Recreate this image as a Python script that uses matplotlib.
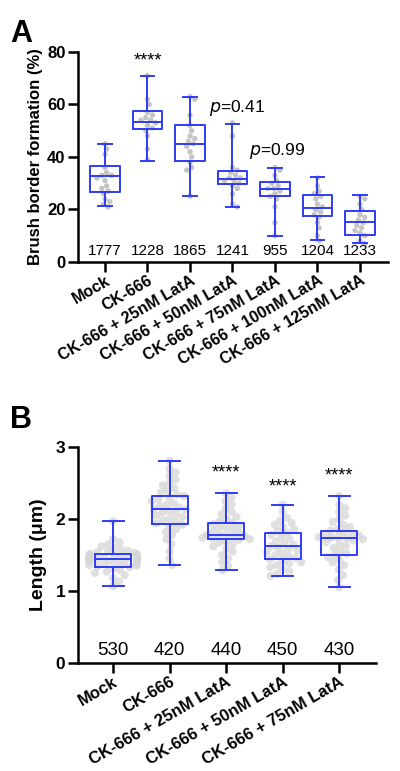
import numpy as np
import matplotlib
matplotlib.use("Agg")
import matplotlib.pyplot as plt

plt.rcParams['font.family'] = ['Liberation Sans', 'DejaVu Sans']

BLUE = "#2f3cf2"

# ---- Panel A data ----
cats_a = ["Mock", "CK-666", "CK-666 + 25nM LatA", "CK-666 + 50nM LatA",
          "CK-666 + 75nM LatA", "CK-666 + 100nM LatA", "CK-666 + 125nM LatA"]
n_a = ["1777", "1228", "1865", "1241", "955", "1204", "1233"]
whislo_a = [21.2, 38.3, 25.3, 21.1, 10.0, 8.3, 7.2]
q1_a = [26.7, 50.8, 38.3, 29.7, 25.3, 17.4, 10.4]
med_a = [32.6, 53.2, 45.1, 31.6, 27.8, 20.4, 15.2]
q3_a = [36.4, 57.7, 52.3, 34.7, 30.6, 25.4, 19.4]
whishi_a = [45.0, 71.0, 62.9, 52.7, 35.8, 32.5, 25.5]
mock_a = [45, 43, 41, 36, 34, 33, 33, 32, 31, 29, 28, 27, 26, 24, 23, 22, 21]
ck_a = [71, 62, 60, 57, 56, 55, 54, 54, 53, 52, 51, 50, 48, 43, 39]
l25_a = [63, 62, 56, 52, 50, 48, 47, 46, 45, 44, 42, 40, 38, 36, 35, 25]
l50_a = [53, 48, 36, 35, 34, 33, 32, 32, 31, 31, 30, 29, 28, 26, 22, 21]
l75_a = [36, 35, 33, 31, 30, 29, 28, 28, 27, 26, 25, 24, 21, 15, 10]
l100_a = [32, 29, 27, 26, 25, 24, 22, 21, 20, 19, 18, 17, 15, 13, 10, 8]
l125_a = [25, 24, 22, 20, 18, 17, 16, 15, 14, 13, 12, 11, 10, 8, 7]
points_a = [mock_a, ck_a, l25_a, l50_a, l75_a, l100_a, l125_a]

# ---- Panel B data ----
cats_b = ["Mock", "CK-666", "CK-666 + 25nM LatA", "CK-666 + 50nM LatA",
          "CK-666 + 75nM LatA"]
n_b = ["530", "420", "440", "450", "430"]
whislo_b = [1.065, 1.36, 1.29, 1.21, 1.05]
q1_b = [1.34, 1.93, 1.72, 1.44, 1.50]
med_b = [1.45, 2.14, 1.78, 1.62, 1.73]
q3_b = [1.51, 2.32, 1.94, 1.81, 1.83]
whishi_b = [1.97, 2.81, 2.36, 2.20, 2.32]
mock_b = [1.97, 1.72, 1.68, 1.65, 1.62, 1.6, 1.58, 1.56, 1.55, 1.54, 1.53, 1.52,
          1.51, 1.5, 1.5, 1.49, 1.48, 1.47, 1.47, 1.46, 1.46, 1.45, 1.45, 1.44,
          1.44, 1.43, 1.43, 1.42, 1.42, 1.41, 1.40, 1.39, 1.38, 1.37, 1.36, 1.35,
          1.34, 1.33, 1.31, 1.29, 1.27, 1.25, 1.22, 1.18, 1.13, 1.07]
ck_b = [2.81, 2.7, 2.65, 2.6, 2.55, 2.5, 2.47, 2.43, 2.4, 2.37, 2.34, 2.32, 2.3,
        2.28, 2.25, 2.22, 2.2, 2.18, 2.16, 2.14, 2.13, 2.11, 2.09, 2.07, 2.05,
        2.03, 2.0, 1.98, 1.96, 1.94, 1.92, 1.9, 1.86, 1.82, 1.78, 1.72, 1.65,
        1.55, 1.45, 1.36]
l25_b = [2.36, 2.3, 2.25, 2.2, 2.15, 2.1, 2.07, 2.03, 2.0, 1.97, 1.95, 1.93, 1.91,
         1.89, 1.87, 1.85, 1.83, 1.81, 1.79, 1.78, 1.77, 1.76, 1.75, 1.74, 1.73,
         1.72, 1.71, 1.69, 1.67, 1.65, 1.62, 1.58, 1.55, 1.5, 1.45, 1.4, 1.35, 1.29]
l50_b = [2.2, 2.1, 2.02, 1.98, 1.95, 1.92, 1.89, 1.86, 1.83, 1.81, 1.78, 1.75,
         1.72, 1.69, 1.66, 1.64, 1.62, 1.6, 1.58, 1.56, 1.54, 1.52, 1.5, 1.48,
         1.46, 1.44, 1.42, 1.4, 1.38, 1.36, 1.33, 1.3, 1.27, 1.24, 1.21]
l75_b = [2.32, 2.2, 2.15, 2.1, 2.05, 2.0, 1.96, 1.92, 1.89, 1.86, 1.84, 1.82, 1.8,
         1.78, 1.77, 1.76, 1.75, 1.74, 1.73, 1.72, 1.7, 1.68, 1.66, 1.63, 1.6,
         1.56, 1.52, 1.5, 1.47, 1.43, 1.4, 1.36, 1.3, 1.22, 1.15, 1.05]
points_b = [mock_b, ck_b, l25_b, l50_b, l75_b]


def swarm_offsets(ax, x0, vals, diam_px, max_off):
    # simple beeswarm: place each point at the smallest free horizontal offset
    trans = ax.transData
    px_per_unit = trans.transform((1, 0))[0] - trans.transform((0, 0))[0]
    ys = [trans.transform((x0, v))[1] for v in vals]
    placed = []
    offs = []
    for y in ys:
        cands = [0.0]
        for (px, py) in placed:
            dy = abs(y - py)
            if dy < diam_px:
                dx = np.sqrt(diam_px ** 2 - dy ** 2)
                cands += [px + dx, px - dx]
        cands.sort(key=abs)
        best = cands[-1]
        for c in cands:
            ok = all((c - px) ** 2 + (y - py) ** 2 >= diam_px ** 2 * 0.99
                     for (px, py) in placed)
            if ok:
                best = c
                break
        lim = max_off * px_per_unit
        best = max(-lim, min(lim, best))
        placed.append((best, y))
        offs.append(best / px_per_unit)
    return offs


def style_axis(ax, ysize):
    for s in ["top", "right"]:
        ax.spines[s].set_visible(False)
    for s in ["left", "bottom"]:
        ax.spines[s].set_linewidth(1.8)
    ax.tick_params(axis="both", direction="out", length=7, width=1.8)
    ax.tick_params(axis="y", labelsize=ysize, pad=2)
    ax.tick_params(axis="x", pad=1)
    for lab in ax.get_yticklabels():
        lab.set_fontweight("bold")


fig = plt.figure(figsize=(4.0, 7.71), dpi=100)

# ---------------- Panel A ----------------
axA = fig.add_axes([0.195, 0.6602, 0.775, 0.2724])
axA.set_xlim(-0.635, 6.66)
axA.set_ylim(0, 80)
xa = np.arange(len(cats_a))
for i, vals in enumerate(points_a):
    offs = swarm_offsets(axA, i, vals, 5.5, 0.33)
    axA.scatter(i + np.array(offs), vals, s=15, color="#c4c4c4", edgecolor="none", zorder=1)
stats_a = [dict(whislo=whislo_a[i], q1=q1_a[i], med=med_a[i], q3=q3_a[i],
                whishi=whishi_a[i], fliers=[]) for i in range(len(cats_a))]
axA.bxp(stats_a, positions=xa, widths=0.69, showfliers=False,
        boxprops=dict(color=BLUE, linewidth=1.4),
        medianprops=dict(color=BLUE, linewidth=1.4),
        whiskerprops=dict(color=BLUE, linewidth=1.4),
        capprops=dict(color=BLUE, linewidth=1.4), capwidths=0.32,
        manage_ticks=False, zorder=2)
for i, t in enumerate(n_a):
    axA.text(i, 1.5, t, ha="center", va="bottom", fontsize=11)
axA.text(1, 73.5, "****", ha="center", va="bottom", fontsize=13)
axA.text(3.1, 58.7, "$\\mathit{p}$=0.41", ha="center", va="center", fontsize=12.5)
axA.text(4.05, 42.2, "$\\mathit{p}$=0.99", ha="center", va="center", fontsize=12.5)
axA.set_yticks([0, 20, 40, 60, 80])
axA.set_xticks(xa)
axA.set_xticklabels(cats_a, rotation=30, ha="right", rotation_mode="anchor",
                    fontsize=11.5, fontweight="bold")
axA.set_ylabel("Brush border formation (%)", fontsize=12, fontweight="bold", labelpad=3)
style_axis(axA, 12)
fig.text(0.025, 0.975, "A", fontsize=22, fontweight="bold", va="top", ha="left")

# ---------------- Panel B ----------------
axB = fig.add_axes([0.195, 0.140, 0.745, 0.2802])
axB.set_xlim(-0.62, 4.65)
axB.set_ylim(0, 3)
xb = np.arange(len(cats_b))
for i, vals in enumerate(points_b):
    offs = swarm_offsets(axB, i, vals, 7.0, 0.42)
    axB.scatter(i + np.array(offs), vals, s=34, color="#d6d6d6", edgecolor="none",
                alpha=0.75, zorder=1)
stats_b = [dict(whislo=whislo_b[i], q1=q1_b[i], med=med_b[i], q3=q3_b[i],
                whishi=whishi_b[i], fliers=[]) for i in range(len(cats_b))]
axB.bxp(stats_b, positions=xb, widths=0.64, showfliers=False,
        boxprops=dict(color=BLUE, linewidth=1.4),
        medianprops=dict(color=BLUE, linewidth=1.4),
        whiskerprops=dict(color=BLUE, linewidth=1.4),
        capprops=dict(color=BLUE, linewidth=1.4), capwidths=0.37,
        manage_ticks=False, zorder=2)
for i, t in enumerate(n_b):
    axB.text(i, 0.06, t, ha="center", va="bottom", fontsize=13.5)
for i, y in [(2, 2.52), (3, 2.33), (4, 2.48)]:
    axB.text(i, y, "****", ha="center", va="bottom", fontsize=13)
axB.set_yticks([0, 1, 2, 3])
axB.set_xticks(xb)
axB.set_xticklabels(cats_b, rotation=30, ha="right", rotation_mode="anchor",
                    fontsize=12, fontweight="bold")
axB.set_ylabel("Length (μm)", fontsize=14, fontweight="bold", labelpad=6)
style_axis(axB, 12.5)
fig.text(0.025, 0.475, "B", fontsize=22, fontweight="bold", va="top", ha="left")

fig.savefig("out.png", dpi=100)
